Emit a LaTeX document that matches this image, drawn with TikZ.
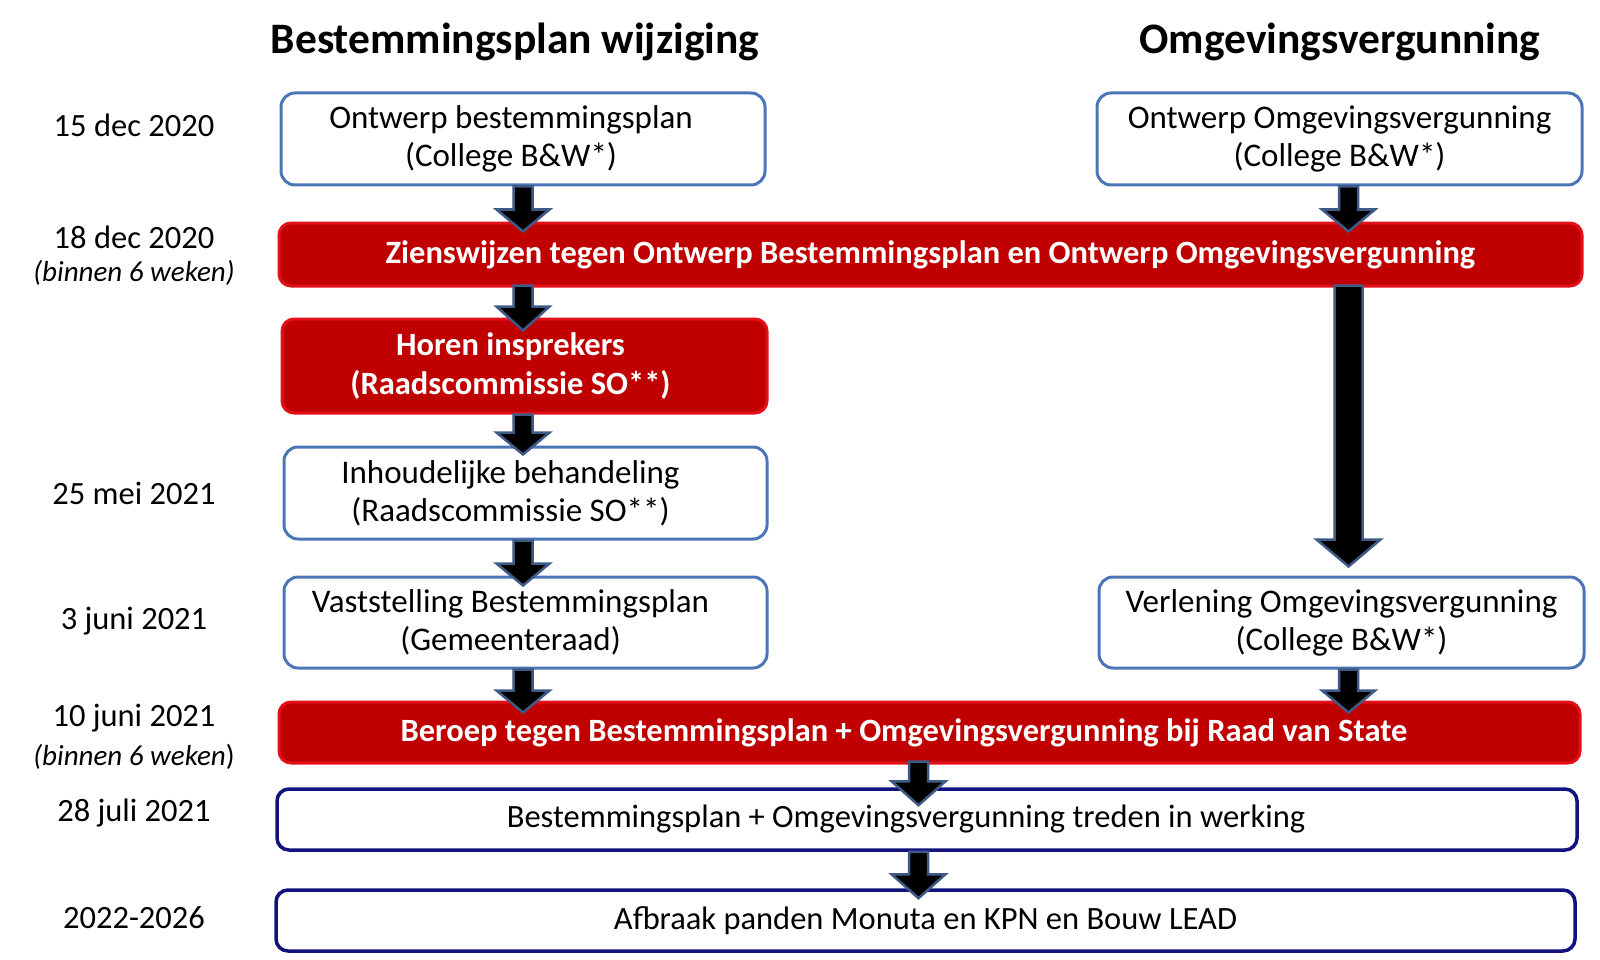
\documentclass[tikz,border=0pt]{standalone}
\usepackage{fontspec}
\setmainfont{Carlito}
\usetikzlibrary{calc}
\definecolor{boxblue}{HTML}{4A76B8}
\definecolor{navyline}{HTML}{12127F}
\definecolor{redfill}{HTML}{C00000}
\definecolor{redline}{HTML}{E3101A}
\definecolor{arrline}{HTML}{3F5A85}
\newcommand\barrow[5]{%
  \draw[arrsty] let \p1=(#1), \p2=(#2) in
   (\x2-#3pt,\y1) -- (\x2+#3pt,\y1) -- (\x2+#3pt,\y2+#5pt) -- (\x2+#4pt,\y2+#5pt)
   -- (\x2,\y2) -- (\x2-#4pt,\y2+#5pt) -- (\x2-#3pt,\y2+#5pt) -- cycle;}
\newcommand\rk[1]{\kern#1pt}
\begin{document}
\begin{tikzpicture}[x=1pt,y=-1pt,
  txt/.style={font=\fontsize{33}{38}\selectfont, align=center, inner sep=0pt},
  wbox/.style={txt, draw=boxblue, line width=3pt, rounded corners=14pt, fill=white},
  nbox/.style={txt, font=\fontsize{32.5}{38}\selectfont, draw=navyline, line width=3.5pt, rounded corners=12pt, fill=white},
  rbox/.style={draw=redline, line width=3pt, rounded corners=12pt, fill=redfill, text=white,
     font=\fontsize{32.5}{39}\selectfont\bfseries, align=center, inner sep=0pt},
  title/.style={font=\fontsize{43.5}{50}\selectfont\bfseries, inner sep=0pt},
  date/.style={font=\fontsize{32.5}{38}\selectfont, inner sep=0pt},
  note/.style={font=\fontsize{29}{34}\selectfont, inner sep=0pt},
  arrsty/.style={fill=black, draw=arrline, line width=2.5pt, line join=miter}]
\useasboundingbox (0,0) rectangle (1600,960);
\fill[white] (0,0) rectangle (1600,960);

% titles
\node[title] (t1) at (515,42) {Bestemmingsplan wijziging};
\node[title] (t2) at (1340,42) {Omgevingsvergunning};

% dates
\node[date] (d1) at (134,125) {15 dec 2020};
\node[date] (d2) at (134,237) {18 dec 2020};
\node[note] (d2b) at (134,273) {\itshape (binnen 6 weken)};
\node[date] (d3) at (134,493) {25 mei 2021};
\node[date] (d4) at (134,621) {3 juni 2021};
\node[date] (d5) at (134,718) {10 juni 2021};
\node[note] (d5b) at (134,757) {{\itshape (binnen 6 weken})};
\node[date] (d6) at (134,813) {28 juli 2021};
\node[date] (d7) at (134,918) {2022-2026};

% boxes
\node[wbox, minimum width=484, minimum height=92] (b1) at (523,139)
  {Ontwerp bestemmingsplan\rk{24}\\(College B\&W*)\rk{24}};
\node[wbox, minimum width=485, minimum height=92] (b2) at (1339.5,139)
  {Ontwerp Omgevingsvergunning\\(College B\&W*)};
\node[rbox, minimum width=1303, minimum height=63] (r1) at (930.5,254.5)
  {Zienswijzen tegen Ontwerp Bestemmingsplan en Ontwerp Omgevingsvergunning};
\node[rbox, minimum width=485, minimum height=94] (h) at (524.5,366)
  {Horen insprekers\rk{28}\\(Raadscommissie SO**)\rk{28}};
\node[wbox, minimum width=483, minimum height=92] (ib) at (525.5,493)
  {Inhoudelijke behandeling\rk{30}\\(Raadscommissie SO**)\rk{30}};
\node[wbox, minimum width=483, minimum height=91] (vb) at (525.5,622.5)
  {Vaststelling Bestemmingsplan\rk{30}\\(Gemeenteraad)\rk{30}};
\node[wbox, minimum width=485, minimum height=91] (vo) at (1341.5,622.5)
  {Verlening Omgevingsvergunning\\(College B\&W*)};
\node[rbox, minimum width=1301, minimum height=61] (r2) at (929.5,732.5)
  {Beroep tegen Bestemmingsplan + Omgevingsvergunning bij Raad van State\rk{51}};
\node[nbox, minimum width=1300, minimum height=61] (tw) at (927,819.5)
  {Bestemmingsplan + Omgevingsvergunning treden in werking\rk{42}};
\node[nbox, minimum width=1299, minimum height=61] (af) at (925.5,920.5)
  {Afbraak panden Monuta en KPN en Bouw LEAD};

% block arrows
\barrow{b1.south}{$(r1.north -| b1.south)+(0,10)$}{9.5}{26.5}{22}
\barrow{$(b2.south)+(9,0)$}{$(r1.north -| b2.south)+(9,10)$}{9.5}{26.5}{22}
\barrow{$(r1.south -| b1.south)+(0,-2)$}{$(h.north -| b1.south)+(0,13)$}{9.5}{26.5}{24}
\barrow{$(h.south -| b1.south)$}{$(ib.north -| b1.south)+(0,9)$}{9.5}{26.5}{22}
\barrow{$(ib.south -| b1.south)$}{$(vb.north -| b1.south)+(0,10)$}{9.5}{26.5}{22}
\barrow{$(r1.south -| b2.south)+(9,-2)$}{$(vo.north -| b2.south)+(9,-9)$}{14}{32}{27}
\barrow{$(vb.south -| b1.south)$}{$(r2.north -| b1.south)+(0,12)$}{9.5}{26.5}{22}
\barrow{$(vo.south -| b2.south)+(9,0)$}{$(r2.north -| b2.south)+(9,12)$}{9.5}{26.5}{22}
\barrow{$(r2.south)+(-11,-3)$}{$(tw.north -| r2.south)+(-11,18)$}{9.5}{27}{24}
\barrow{$(tw.south -| r2.south)+(-11,0)$}{$(af.north -| r2.south)+(-11,10)$}{9.5}{27}{24}
\end{tikzpicture}
\end{document}
